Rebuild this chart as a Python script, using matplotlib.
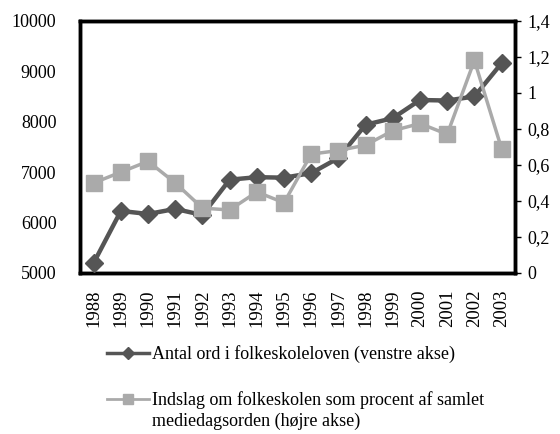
import matplotlib
matplotlib.use("Agg")
from matplotlib import pyplot as plt
from matplotlib.lines import Line2D

plt.rcParams['font.family'] = ['Liberation Serif', 'DejaVu Serif']

years = [str(y) for y in range(1988, 2004)]

# Antal ord i folkeskoleloven (venstre akse)
ord_antal = [5200, 6230, 6170, 6270, 6150, 6850, 6900, 6890,
             6980, 7280, 7940, 8070, 8430, 8420, 8500, 9160]

# Indslag om folkeskolen som procent af samlet mediedagsorden (hojre akse)
indslag_pct = [0.50, 0.56, 0.62, 0.50, 0.36, 0.35, 0.45, 0.39,
               0.66, 0.68, 0.71, 0.79, 0.83, 0.77, 1.18, 0.69]

left_ticks = [5000, 6000, 7000, 8000, 9000, 10000]
right_ticks = [0, 0.2, 0.4, 0.6, 0.8, 1, 1.2, 1.4]
right_labels = ["0", "0,2", "0,4", "0,6", "0,8", "1", "1,2", "1,4"]

dark = "#555555"
light = "#aaaaaa"

fig = plt.figure(figsize=(5.6, 4.34), dpi=100)
ax = fig.add_axes([0.143, 0.371, 0.777, 0.581])
ax2 = ax.twinx()

ax.set_xlim(-0.5, len(years) - 0.5)
ax.set_ylim(5000, 10000)
ax2.set_ylim(0, 1.4)

x = list(range(len(years)))
# lines first, then markers on top (dark series uses the left axis scale)
ax2.plot(x, ord_antal, color=dark, lw=3.2, transform=ax.transData, zorder=2)
ax2.plot(x, indslag_pct, color=light, lw=2.5, zorder=3)
ax2.plot(x, ord_antal, ls="none", marker="D", markersize=9, color=dark,
         transform=ax.transData, zorder=4)
ax2.plot(x, indslag_pct, ls="none", marker="s", markersize=11, color=light,
         zorder=5)

ax.set_yticks(left_ticks)
ax2.set_yticks(right_ticks)
ax2.set_yticklabels(right_labels)
ax.set_xticks(x)
ax.set_xticklabels(years, rotation=90)

ax.tick_params(axis="y", length=0, labelsize=13, pad=17)
ax.tick_params(axis="x", length=0, labelsize=13.5, pad=12)
ax2.tick_params(axis="y", length=4, width=1, labelsize=13, pad=5)

for a in (ax, ax2):
    for s in a.spines.values():
        s.set_linewidth(2.5)
        s.set_color("black")

h1 = Line2D([], [], color=dark, lw=2.5, marker="D", markersize=6)
h2 = Line2D([], [], color=light, lw=2, marker="s", markersize=7)
leg = fig.legend([h1, h2],
                 ["Antal ord i folkeskoleloven (venstre akse)",
                  "Indslag om folkeskolen som procent af samlet"],
                 loc="upper left", bbox_to_anchor=(0.175, 0.225), frameon=False,
                 fontsize=13, handlelength=2.3, labelspacing=1.55,
                 handletextpad=0.2, borderpad=0)

fig.canvas.draw()
bb = leg.get_texts()[1].get_window_extent().transformed(fig.transFigure.inverted())
fig.text(bb.x0, bb.y0 - 0.008, "mediedagsorden (højre akse)", fontsize=13,
         va="top", ha="left")

fig.savefig("out.png", dpi=100)
